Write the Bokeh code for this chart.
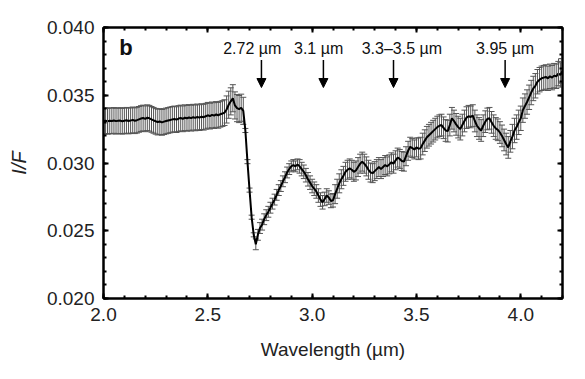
import numpy as np
from bokeh.plotting import figure
from bokeh.models import (ColumnDataSource, Whisker, TeeHead, LinearAxis, SingleIntervalTicker,
                          PrintfTickFormatter, CustomJSTickFormatter, Arrow, NormalHead, Label)
from bokeh.core.properties import value
from bokeh.embed import file_html
from bokeh.resources import INLINE

wavelength = [
    2.00, 2.01, 2.02, 2.03, 2.04, 2.05, 2.06, 2.07, 2.08, 2.09,
    2.10, 2.11, 2.12, 2.13, 2.14, 2.15, 2.16, 2.17, 2.18, 2.19,
    2.20, 2.21, 2.22, 2.23, 2.24, 2.25, 2.26, 2.27, 2.28, 2.29,
    2.30, 2.31, 2.32, 2.33, 2.34, 2.35, 2.36, 2.37, 2.38, 2.39,
    2.40, 2.41, 2.42, 2.43, 2.44, 2.45, 2.46, 2.47, 2.48, 2.49,
    2.50, 2.51, 2.52, 2.53, 2.54, 2.55, 2.56, 2.57, 2.58, 2.59,
    2.60, 2.61, 2.62, 2.63, 2.64, 2.65, 2.66, 2.67, 2.68, 2.69,
    2.70, 2.71, 2.72, 2.73, 2.74, 2.75, 2.76, 2.77, 2.78, 2.79,
    2.80, 2.81, 2.82, 2.83, 2.84, 2.85, 2.86, 2.87, 2.88, 2.89,
    2.90, 2.91, 2.92, 2.93, 2.94, 2.95, 2.96, 2.97, 2.98, 2.99,
    3.00, 3.01, 3.02, 3.03, 3.04, 3.05, 3.06, 3.07, 3.08, 3.09,
    3.10, 3.11, 3.12, 3.13, 3.14, 3.15, 3.16, 3.17, 3.18, 3.19,
    3.20, 3.21, 3.22, 3.23, 3.24, 3.25, 3.26, 3.27, 3.28, 3.29,
    3.30, 3.31, 3.32, 3.33, 3.34, 3.35, 3.36, 3.37, 3.38, 3.39,
    3.40, 3.41, 3.42, 3.43, 3.44, 3.45, 3.46, 3.47, 3.48, 3.49,
    3.50, 3.51, 3.52, 3.53, 3.54, 3.55, 3.56, 3.57, 3.58, 3.59,
    3.60, 3.61, 3.62, 3.63, 3.64, 3.65, 3.66, 3.67, 3.68, 3.69,
    3.70, 3.71, 3.72, 3.73, 3.74, 3.75, 3.76, 3.77, 3.78, 3.79,
    3.80, 3.81, 3.82, 3.83, 3.84, 3.85, 3.86, 3.87, 3.88, 3.89,
    3.90, 3.91, 3.92, 3.93, 3.94, 3.95, 3.96, 3.97, 3.98, 3.99,
    4.00, 4.01, 4.02, 4.03, 4.04, 4.05, 4.06, 4.07, 4.08, 4.09,
    4.10, 4.11, 4.12, 4.13, 4.14, 4.15, 4.16, 4.17, 4.18, 4.19,
    4.20,
]

reflectance = [
    0.03310, 0.03312, 0.03308, 0.03312, 0.03310, 0.03314, 0.03309, 0.03311, 0.03313, 0.03308,
    0.03312, 0.03315, 0.03310, 0.03313, 0.03318, 0.03312, 0.03316, 0.03322, 0.03328, 0.03332,
    0.03326, 0.03334, 0.03330, 0.03322, 0.03315, 0.03308, 0.03302, 0.03306, 0.03300, 0.03305,
    0.03310, 0.03314, 0.03318, 0.03322, 0.03325, 0.03320, 0.03328, 0.03332, 0.03326, 0.03334,
    0.03330, 0.03336, 0.03331, 0.03338, 0.03333, 0.03340, 0.03335, 0.03342, 0.03338, 0.03345,
    0.03352, 0.03346, 0.03355, 0.03350, 0.03358, 0.03352, 0.03360, 0.03365, 0.03372, 0.03395,
    0.03430, 0.03455, 0.03478, 0.03425, 0.03405, 0.03398, 0.03408, 0.03385, 0.03240, 0.03010,
    0.02800, 0.02600, 0.02470, 0.02400, 0.02470, 0.02520, 0.02545, 0.02585, 0.02615, 0.02640,
    0.02670, 0.02700, 0.02730, 0.02765, 0.02800, 0.02830, 0.02865, 0.02895, 0.02930, 0.02955,
    0.02975, 0.02985, 0.02975, 0.02990, 0.02975, 0.02955, 0.02935, 0.02910, 0.02880, 0.02855,
    0.02830, 0.02810, 0.02790, 0.02760, 0.02730, 0.02710, 0.02735, 0.02760, 0.02745, 0.02720,
    0.02725, 0.02770, 0.02810, 0.02850, 0.02880, 0.02905, 0.02935, 0.02950, 0.02960, 0.02950,
    0.02935, 0.02945, 0.02970, 0.02995, 0.03010, 0.02995, 0.02975, 0.02950, 0.02930, 0.02925,
    0.02940, 0.02955, 0.02970, 0.02955, 0.02970, 0.02985, 0.02975, 0.02990, 0.03005, 0.02995,
    0.03020, 0.03040, 0.03030, 0.03015, 0.03010, 0.03050, 0.03090, 0.03120, 0.03110, 0.03100,
    0.03115, 0.03105, 0.03110, 0.03140, 0.03165, 0.03190, 0.03205, 0.03220, 0.03235, 0.03250,
    0.03265, 0.03275, 0.03280, 0.03260, 0.03240, 0.03235, 0.03280, 0.03330, 0.03310, 0.03285,
    0.03265, 0.03250, 0.03280, 0.03310, 0.03335, 0.03345, 0.03340, 0.03350, 0.03310, 0.03275,
    0.03255, 0.03240, 0.03275, 0.03305, 0.03325, 0.03330, 0.03300, 0.03275, 0.03255, 0.03245,
    0.03225, 0.03200, 0.03170, 0.03140, 0.03115, 0.03160, 0.03195, 0.03240, 0.03265, 0.03300,
    0.03330, 0.03390, 0.03420, 0.03450, 0.03485, 0.03520, 0.03550, 0.03570, 0.03600, 0.03615,
    0.03625, 0.03630, 0.03635, 0.03625, 0.03640, 0.03630, 0.03645, 0.03640, 0.03660, 0.03650,
    0.03680,
]

uncertainty = (
    [0.00095] * 59 +   # 2.00 - 2.58
    [0.00100] * 9 +    # 2.59 - 2.67
    [0.00015] * 5 +    # 2.68 - 2.72
    [0.00040] * 21 +   # 2.73 - 2.93
    [0.00050] * 17 +   # 2.94 - 3.10
    [0.00070] * 40 +   # 3.11 - 3.50
    [0.00080] * 45 +   # 3.51 - 3.95
    [0.00090] * 25     # 3.96 - 4.20
)

band_labels = ["2.72 \u00b5m", "3.1 \u00b5m", "3.3\u20133.5 \u00b5m", "3.95 \u00b5m"]
band_label_x = [2.713, 3.031, 3.43, 3.925]
band_arrow_x = [2.757, 3.054, 3.39, 3.925]

x_ticks_fmt = "%.1f"
y_ticks_fmt = "%.3f"

FONT = "Liberation Sans"

wl = np.array(wavelength)
rf = np.array(reflectance)
er = np.array(uncertainty)
src = ColumnDataSource(dict(x=wl, y=rf, upper=rf + er, lower=rf - er))

p = figure(width=577, height=371, x_range=(2.0, 4.2), y_range=(0.020, 0.040),
           output_backend="svg", toolbar_location=None,
           min_border_left=103, min_border_right=15, min_border_top=27, min_border_bottom=73,
           background_fill_color="white", border_fill_color="white")
p.grid.visible = False
p.outline_line_color = "black"
p.outline_line_width = 2

# error bars
wh = Whisker(source=src, base="x", upper="upper", lower="lower", line_color="#555555", line_width=1,
             upper_head=TeeHead(size=6, line_color="#555555", line_width=1),
             lower_head=TeeHead(size=6, line_color="#555555", line_width=1))
p.add_layout(wh)
p.line("x", "y", source=src, line_color="black", line_width=2)

# end boxes
p.rect(x=[wl[0], wl[-1]], y=[rf[0], rf[-1]], width=8, width_units="screen",
       height=[2 * er[0], 2 * er[-1]], fill_color=None, line_color="#555555", line_width=1)

def style_axis(ax, labels=True):
    ax.axis_line_color = "black"
    ax.axis_line_width = 2
    ax.major_tick_in = 5
    ax.major_tick_out = 0
    ax.minor_tick_in = 3
    ax.minor_tick_out = 0
    ax.major_tick_line_width = 2
    ax.minor_tick_line_width = 2
    ax.major_label_text_font = FONT
    ax.axis_label_text_font = FONT
    ax.major_label_text_color = "#222222"
    ax.axis_label_text_color = "#222222"
    if not labels:
        ax.formatter = CustomJSTickFormatter(code="return ''")
        ax.major_label_standoff = 0

xt = SingleIntervalTicker(interval=0.5, num_minor_ticks=5)
yt = SingleIntervalTicker(interval=0.005, num_minor_ticks=5)

p.xaxis.ticker = xt
p.yaxis.ticker = yt
p.xaxis.formatter = PrintfTickFormatter(format=x_ticks_fmt)
p.yaxis.formatter = PrintfTickFormatter(format=y_ticks_fmt)
style_axis(p.xaxis[0])
style_axis(p.yaxis[0])
p.xaxis.major_label_text_font_size = "19px"
p.yaxis.major_label_text_font_size = "19px"
p.xaxis.major_label_standoff = 9
p.yaxis.major_label_standoff = 9
p.xaxis.axis_label = "Wavelength (\u00b5m)"
p.xaxis.axis_label_text_font_size = "19px"
p.xaxis.axis_label_text_font_style = "normal"
p.xaxis.axis_label_standoff = 15
p.yaxis.axis_label = "I/F"
p.yaxis.axis_label_text_font_size = "20px"
p.yaxis.axis_label_text_font_style = "italic"
p.yaxis.axis_label_standoff = 14

top = LinearAxis(ticker=SingleIntervalTicker(interval=0.5, num_minor_ticks=5))
style_axis(top, labels=False)
p.add_layout(top, "above")
right = LinearAxis(ticker=SingleIntervalTicker(interval=0.005, num_minor_ticks=5))
style_axis(right, labels=False)
p.add_layout(right, "right")

# band annotations
lab_src = ColumnDataSource(dict(x=band_label_x, y=[0.03845] * len(band_label_x), t=band_labels))
p.text("x", "y", text="t", source=lab_src, text_font=value(FONT), text_font_size="16px",
       text_align="center", text_baseline="alphabetic", text_color="#111111")
for ax_ in band_arrow_x:
    p.add_layout(Arrow(end=NormalHead(size=9, fill_color="black", line_color="black"),
                       x_start=ax_, y_start=0.03760, x_end=ax_, y_end=0.03557,
                       line_color="black", line_width=1.5))

p.add_layout(Label(x=2.075, y=0.03757, text="b", text_font=FONT, text_font_size="22px",
                   text_font_style="bold", text_color="#111111"))

open("out.html", "w").write(file_html(p, INLINE))
